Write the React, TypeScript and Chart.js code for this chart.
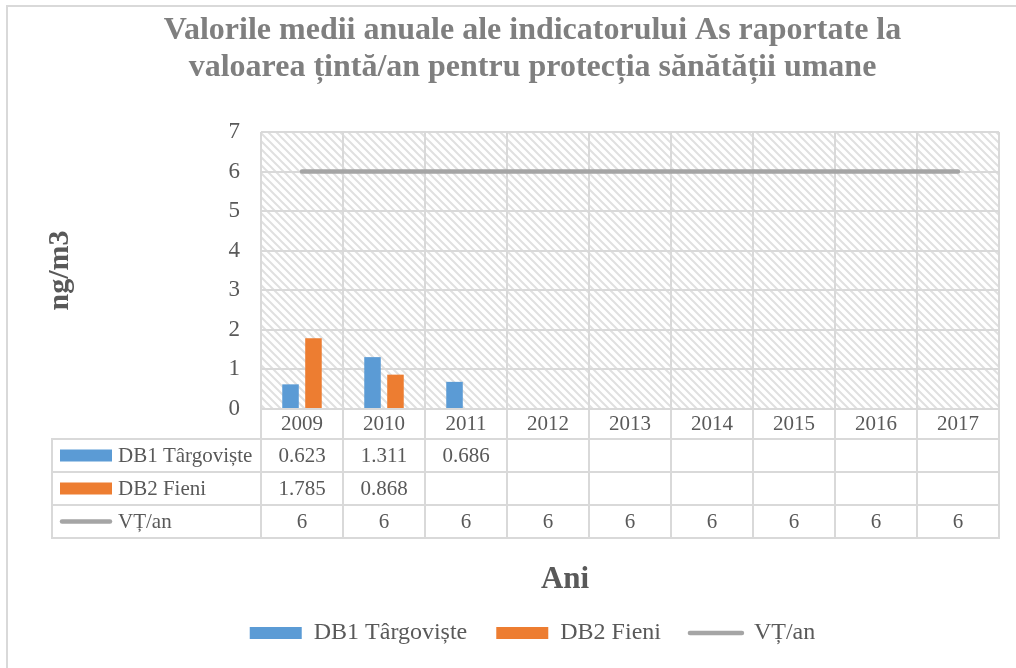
import { useEffect, useRef } from "react";
import { Chart, registerables } from "chart.js";

Chart.register(...registerables);

// ---------- data ----------
const years = ["2009", "2010", "2011", "2012", "2013", "2014", "2015", "2016", "2017"];
const db1Values: (number | null)[] = [0.623, 1.311, 0.686, null, null, null, null, null, null];
const db2Values: (number | null)[] = [1.785, 0.868, null, null, null, null, null, null, null];
const targetValues: (number | null)[] = [6, 6, 6, 6, 6, 6, 6, 6, 6];
const seriesNames = ["DB1 Târgoviște", "DB2 Fieni", "VȚ/an"];
const titleLines = [
  "Valorile medii anuale ale indicatorului As raportate la",
  "valoarea țintă/an pentru protecția sănătății umane",
];
const yAxisTitle = "ng/m3";
const xAxisTitle = "Ani";
const yMin = 0;
const yMax = 7;
const yStep = 1;

// ---------- styles ----------
const FONT = "'Liberation Serif', 'Times New Roman', serif";
const BLUE = "#5B9BD5";
const ORANGE = "#ED7D31";
const GRAY = "#A5A5A5";
const GRID = "#D9D9D9";
const TEXT = "#595959";
const TITLE = "#7F7F7F";

function makeHatch(ctx: CanvasRenderingContext2D) {
  const c = document.createElement("canvas");
  c.width = 8;
  c.height = 8;
  const g = c.getContext("2d")!;
  g.fillStyle = "#ffffff";
  g.fillRect(0, 0, 8, 8);
  g.strokeStyle = "#E0E0E0";
  g.lineWidth = 2;
  g.beginPath();
  g.moveTo(-2, -2);
  g.lineTo(10, 10);
  g.moveTo(-2, 6);
  g.lineTo(2, 10);
  g.moveTo(6, -2);
  g.lineTo(10, 2);
  g.stroke();
  return ctx.createPattern(c, "repeat");
}

const tablePlugin = {
  id: "dataTable",
  beforeDraw(chart: any) {
    const { ctx, chartArea: a } = chart;
    ctx.save();
    ctx.fillStyle = "#ffffff";
    ctx.fillRect(0, 0, chart.width, chart.height);
    // outer chart frame (left + top visible)
    ctx.strokeStyle = GRID;
    ctx.lineWidth = 2;
    ctx.beginPath();
    ctx.moveTo(7, chart.height);
    ctx.lineTo(7, 6);
    ctx.lineTo(chart.width, 6);
    ctx.stroke();
    // hatched plot background
    const pat = makeHatch(ctx);
    if (pat) {
      ctx.fillStyle = pat;
      ctx.fillRect(a.left, a.top, a.right - a.left, a.bottom - a.top);
    }
    ctx.restore();
  },
  afterDraw(chart: any) {
    const { ctx, chartArea: a } = chart;
    const xs = chart.scales.x;
    const n = years.length;
    const bounds: number[] = [a.left];
    for (let i = 0; i < n - 1; i++) {
      bounds.push((xs.getPixelForValue(i) + xs.getPixelForValue(i + 1)) / 2);
    }
    bounds.push(a.right);
    const tableLeft = 52;
    const headerBottom = a.bottom + 30;
    const rowH = 33;
    const rows = [db1Values, db2Values, targetValues];
    const tableBottom = headerBottom + rowH * rows.length;

    ctx.save();
    ctx.strokeStyle = GRID;
    ctx.lineWidth = 2;
    ctx.beginPath();
    // header row verticals
    for (const b of bounds) {
      ctx.moveTo(b, a.bottom);
      ctx.lineTo(b, headerBottom);
    }
    // body verticals
    for (const b of [tableLeft, ...bounds]) {
      ctx.moveTo(b, headerBottom);
      ctx.lineTo(b, tableBottom);
    }
    // horizontals
    for (let r = 0; r <= rows.length; r++) {
      const y = headerBottom + r * rowH;
      ctx.moveTo(tableLeft - 1, y);
      ctx.lineTo(a.right + 1, y);
    }
    ctx.stroke();

    ctx.font = `21px ${FONT}`;
    ctx.fillStyle = TEXT;
    ctx.textBaseline = "middle";
    rows.forEach((vals, r) => {
      const cy = headerBottom + r * rowH + rowH / 2;
      // key
      if (r < 2) {
        ctx.fillStyle = r === 0 ? BLUE : ORANGE;
        ctx.fillRect(60, cy - 6, 52, 12);
      } else {
        ctx.strokeStyle = GRAY;
        ctx.lineWidth = 4.5;
        ctx.lineCap = "round";
        ctx.beginPath();
        ctx.moveTo(62, cy);
        ctx.lineTo(110, cy);
        ctx.stroke();
      }
      ctx.fillStyle = TEXT;
      ctx.textAlign = "left";
      ctx.fillText(seriesNames[r], 118, cy + 1);
      ctx.textAlign = "center";
      vals.forEach((v, i) => {
        if (v === null || v === undefined) return;
        ctx.fillText(String(v), (bounds[i] + bounds[i + 1]) / 2, cy + 1);
      });
    });

    // x axis title
    ctx.font = `bold 31px ${FONT}`;
    ctx.fillStyle = TEXT;
    ctx.textAlign = "center";
    ctx.fillText(xAxisTitle, 565, 580);
    ctx.restore();
  },
};

export default function App() {
  const ref = useRef<HTMLCanvasElement>(null);

  useEffect(() => {
    if (!ref.current) return;
    const chart = new Chart(ref.current, {
      type: "bar",
      data: {
        labels: years,
        datasets: [
          {
            type: "bar",
            label: seriesNames[0],
            data: db1Values,
            backgroundColor: BLUE,
            categoryPercentage: 0.56,
            barPercentage: 0.72,
          },
          {
            type: "bar",
            label: seriesNames[1],
            data: db2Values,
            backgroundColor: ORANGE,
            categoryPercentage: 0.56,
            barPercentage: 0.72,
          },
          {
            type: "line",
            label: seriesNames[2],
            data: targetValues,
            borderColor: GRAY,
            backgroundColor: GRAY,
            borderWidth: 4.5,
            borderCapStyle: "round",
            pointRadius: 0,
            pointHoverRadius: 0,
          },
        ] as any,
      },
      options: {
        responsive: false,
        animation: false,
        devicePixelRatio: 1,
        layout: { padding: { left: 66, right: 17, top: 0, bottom: 13 } },
        plugins: {
          tooltip: { enabled: false },
          title: {
            display: true,
            text: titleLines,
            color: TITLE,
            font: { family: FONT, size: 32, weight: "bold", lineHeight: 37 / 32 },
            padding: { top: 12, bottom: 46 },
          },
          legend: {
            display: true,
            position: "bottom",
            labels: {
              usePointStyle: true,
              pointStyleWidth: 52,
              boxHeight: 12,
              padding: 29,
              color: TEXT,
              font: { family: FONT, size: 24 },
              generateLabels: (c: any) =>
                c.data.datasets.map((ds: any, i: number) => ({
                  text: ds.label,
                  fillStyle: i < 2 ? ds.backgroundColor : GRAY,
                  strokeStyle: i < 2 ? ds.backgroundColor : GRAY,
                  lineWidth: i < 2 ? 0 : 4.5,
                  lineCap: "round",
                  pointStyle: i < 2 ? "rect" : "line",
                  hidden: false,
                  datasetIndex: i,
                  fontColor: TEXT,
                })),
            },
          },
        },
        scales: {
          x: {
            grid: { display: true, offset: true, color: GRID, lineWidth: 2, drawTicks: false },
            border: { display: false },
            ticks: { color: TEXT, font: { family: FONT, size: 21 }, padding: 2.4, maxRotation: 0 },
            afterFit: (s: any) => {
              s.height = 183;
            },
          },
          y: {
            min: yMin,
            max: yMax,
            grid: { color: GRID, lineWidth: 2, drawTicks: false },
            border: { display: false },
            ticks: { stepSize: yStep, color: TEXT, font: { family: FONT, size: 23 }, padding: 21 },
            title: {
              display: true,
              text: yAxisTitle,
              color: TEXT,
              font: { family: FONT, size: 30, weight: "bold", lineHeight: 1.2 },
              padding: { top: -24, bottom: 0 },
            },
            afterFit: (s: any) => {
              s.width = 195;
            },
          },
        },
      },
      plugins: [tablePlugin],
    } as any);
    return () => chart.destroy();
  }, []);

  return (
    <div style={{ position: "absolute", left: 0, top: 0, width: 1016, height: 668 }}>
      <canvas ref={ref} width={1016} height={668} style={{ width: 1016, height: 668 }} />
    </div>
  );
}
